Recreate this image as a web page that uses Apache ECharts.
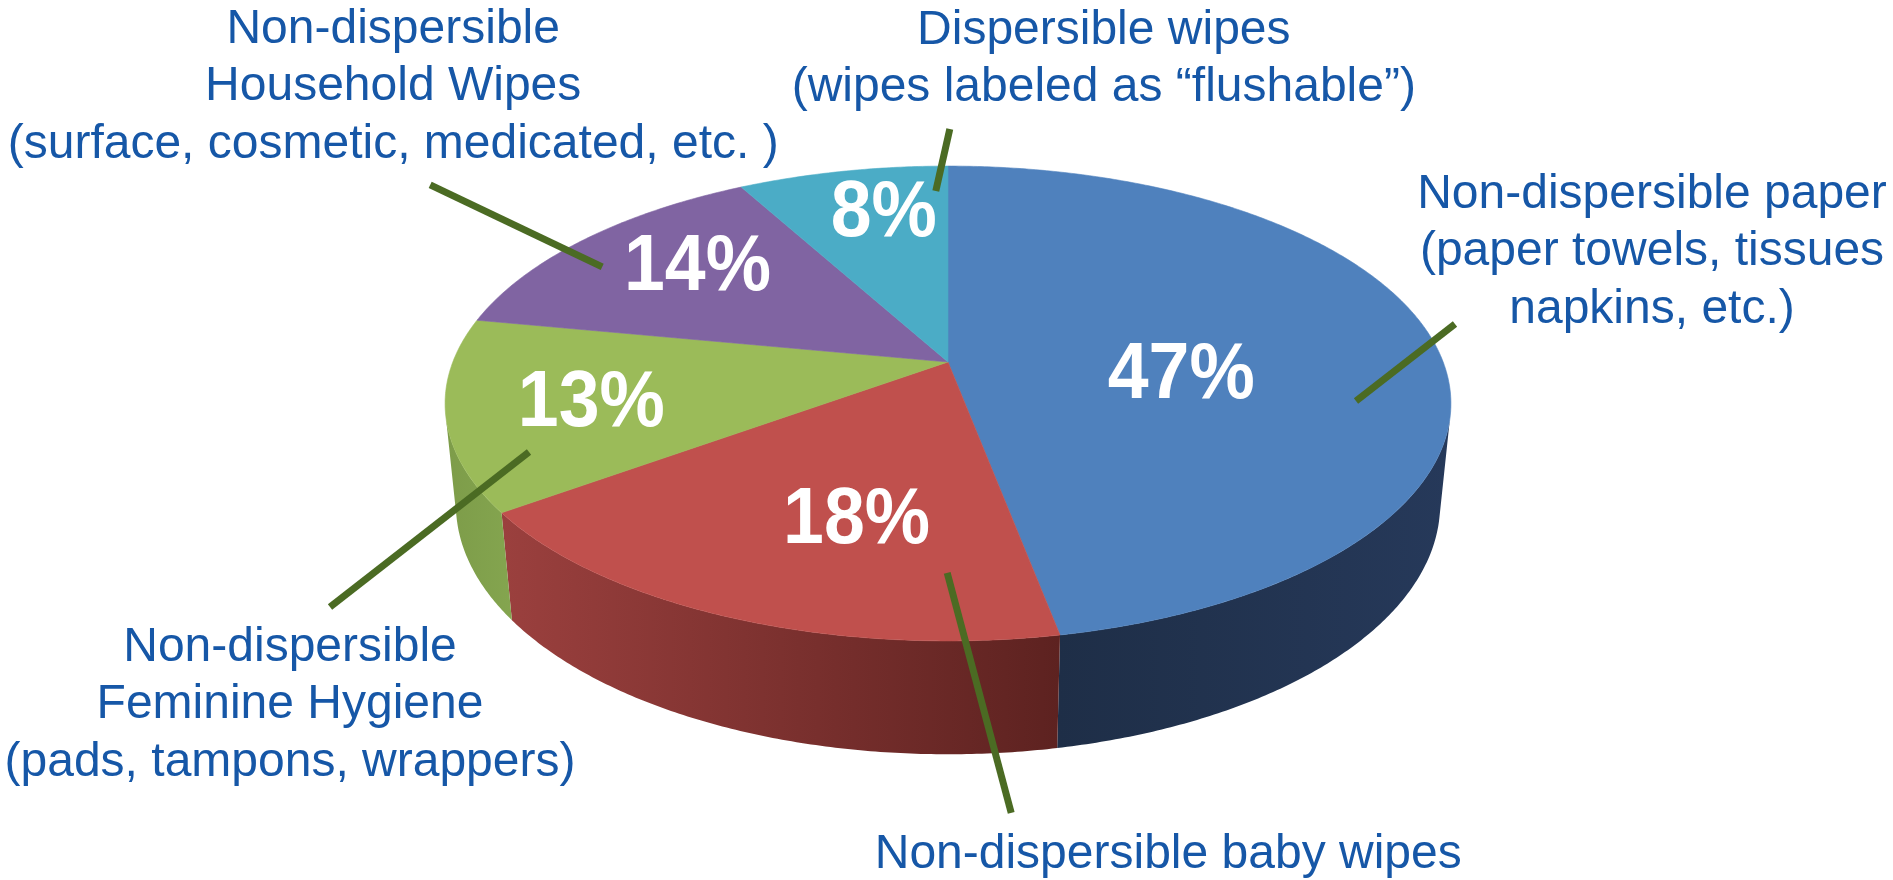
<!DOCTYPE html>
<html>
<head>
<meta charset="utf-8">
<script src="https://cdn.jsdelivr.net/npm/echarts@6/dist/echarts.min.js"></script>
<style>
html,body{margin:0;padding:0;background:#ffffff;}
#chart{width:1893px;height:880px;}
</style>
</head>
<body>
<div id="chart"></div>
<script>
// ---------- data ----------
const categories = [
  'Non-dispersible paper\n(paper towels, tissues\nnapkins, etc.)',
  'Non-dispersible baby wipes',
  'Non-dispersible\nFeminine Hygiene\n(pads, tampons, wrappers)',
  'Non-dispersible\nHousehold Wipes\n(surface, cosmetic, medicated, etc. )',
  'Dispersible wipes\n(wipes labeled as \u201cflushable\u201d)'
];
const shares = [47, 18, 13, 14, 8];

// ---------- style / layout ----------
const topColors  = ['#4F81BD', '#C0504D', '#9BBB59', '#8064A2', '#4BACC6'];
const wallLeft   = ['#1E2E47', '#9B403E', '#7D9C49', '#65508A', '#3A8FA6'];
const wallRight  = ['#26395A', '#5D2220', '#84A54F', '#65508A', '#3A8FA6'];
const pctAt      = [[0.47, 12.8], [0.64, -6.7], [0.72, -1.6], [0.70, 2.9], [0.74, 3.0]];   // [radius, angle shift from slice middle]
const leaderAt   = [[0.817, 17.0], [0.79, -21.5], [0.8725, -12.2], [0.8745, -5.4], [0.854, 12.5]];
const leaderVec  = [[99, -77], [64, 240], [-199, 155], [-172, -82], [14, -62]];
const labelVec   = [[197, -72], [157, 42], [-40, 98], [-37, -98], [154, -70]];
const PROJ = { cx: 948, cy: 362, f: 2508, D: 5.065, tilt: 27.7, H: 0.2324 };
const TEXT_BLUE = '#1657A7';
const LEADER = '#4B6B23';
const FONT = '"Liberation Sans", Arial, Helvetica, sans-serif';

function project(r, thetaDeg, h) {
  const t = thetaDeg * Math.PI / 180;
  const a = PROJ.tilt * Math.PI / 180;
  const s = Math.sin(a), c = Math.cos(a);
  const x = r * Math.sin(t), z = -r * Math.cos(t);
  const depth = PROJ.D - z * c - h * s;
  return [PROJ.cx + PROJ.f * x / depth, PROJ.cy + PROJ.f * (z * s - h * c) / depth];
}

const total = shares.reduce((a, b) => a + b, 0);
const visLimit = Math.acos(-1 / (PROJ.D * Math.cos(PROJ.tilt * Math.PI / 180))) * 180 / Math.PI;

function arcPoints(r, a0, a1, h) {
  const pts = [];
  const n = Math.max(2, Math.ceil(Math.abs(a1 - a0) / 0.5));
  for (let k = 0; k <= n; k++) pts.push(project(r, a0 + (a1 - a0) * k / n, h));
  return pts;
}

const chart = echarts.init(document.getElementById('chart'), null, { renderer: 'canvas' });

chart.setOption({
  backgroundColor: '#ffffff',
  animation: false,
  series: [{
    type: 'custom',
    coordinateSystem: 'none',
    data: shares.map((v, i) => ({ value: v, name: categories[i] })),
    renderItem: function (params, api) {
      const i = params.dataIndex;
      const v = api.value(0);
      let before = 0;
      for (let k = 0; k < i; k++) before += shares[k];
      const a0 = before / total * 360;
      const a1 = (before + v) / total * 360;
      const mid = (a0 + a1) / 2;
      const children = [];

      // outer wall (visible part only)
      const w0 = Math.max(a0, visLimit), w1 = Math.min(a1, 360 - visLimit);
      if (w1 > w0) {
        const topEdge = arcPoints(1, w0, w1, 0);
        const botEdge = arcPoints(1, w1, w0, -PROJ.H);
        const pts = topEdge.concat(botEdge);
        let xl = Infinity, xr = -Infinity;
        pts.forEach(p => { xl = Math.min(xl, p[0]); xr = Math.max(xr, p[0]); });
        children.push({
          type: 'polygon', z2: 1,
          shape: { points: pts },
          style: {
            fill: new echarts.graphic.LinearGradient(xl, 0, xr, 0, [
              { offset: 0, color: wallLeft[i] }, { offset: 1, color: wallRight[i] }
            ], true),
            stroke: null
          }
        });
      }

      // top face
      const topPts = [project(0, 0, 0)].concat(arcPoints(1, a0, a1, 0));
      children.push({
        type: 'polygon', z2: 2,
        shape: { points: topPts },
        style: { fill: topColors[i], stroke: topColors[i], lineWidth: 0.6 }
      });

      // percentage label
      const pp = project(pctAt[i][0], mid + pctAt[i][1], 0);
      children.push({
        type: 'text', z2: 6,
        x: pp[0], y: pp[1], scaleX: 0.93, scaleY: 1,
        style: {
          text: v + '%', x: 0, y: 0,
          fill: '#ffffff', font: 'bold 79px ' + FONT,
          align: 'center', verticalAlign: 'middle'
        }
      });

      // leader line
      const l0 = project(leaderAt[i][0], mid + leaderAt[i][1], 0);
      const l1 = [l0[0] + leaderVec[i][0], l0[1] + leaderVec[i][1]];
      children.push({
        type: 'line', z2: 5,
        shape: { x1: l0[0], y1: l0[1], x2: l1[0], y2: l1[1] },
        style: { stroke: LEADER, lineWidth: 7 }
      });

      // category label
      children.push({
        type: 'text', z2: 6,
        style: {
          text: categories[i], x: l1[0] + labelVec[i][0], y: l1[1] + labelVec[i][1],
          fill: TEXT_BLUE, font: '48px ' + FONT, lineHeight: 57.5,
          align: 'center', verticalAlign: 'middle'
        }
      });

      return { type: 'group', children: children };
    }
  }]
});
</script>
</body>
</html>
